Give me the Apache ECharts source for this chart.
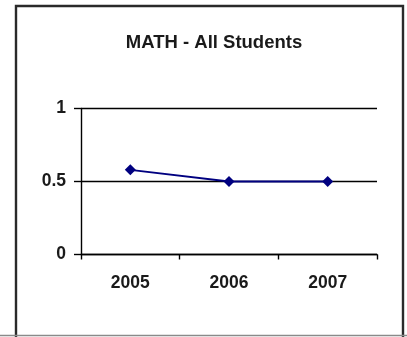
<!DOCTYPE html>
<html>
<head>
<meta charset="utf-8">
<script src="https://cdn.jsdelivr.net/npm/echarts@6/dist/echarts.min.js"></script>
<style>
  html, body { margin: 0; padding: 0; background: #fff; }
  #chart { width: 407px; height: 337px; }
</style>
</head>
<body>
<div id="chart"></div>
<script>
// Year categories and the share of all students for each year
const years = ['2005', '2006', '2007'];
const mathAllStudents = [0.58, 0.5, 0.5];
const yTicks = { min: 0, max: 1, interval: 0.5 };

const FONT = 'Arial, "Liberation Sans", sans-serif';

const chart = echarts.init(document.getElementById('chart'), null, { renderer: 'canvas' });

chart.setOption({
  backgroundColor: '#fff',
  animation: false,
  title: {
    text: 'MATH - All Students',
    left: 209,
    top: 28,
    textAlign: 'center',
    textStyle: { fontFamily: FONT, fontSize: 18.5, fontWeight: 'bold', color: '#1a1a1a' }
  },
  grid: { left: 81, right: 30, top: 108.5, bottom: 82.5, containLabel: false },
  xAxis: {
    type: 'category',
    data: years,
    boundaryGap: true,
    axisLine: { lineStyle: { color: '#000', width: 1.4 } },
    axisTick: { show: true, length: 5, lineStyle: { color: '#000', width: 1.4 } },
    axisLabel: { margin: 20, fontFamily: FONT, fontSize: 17.5, fontWeight: 'bold', color: '#1a1a1a' },
    splitLine: { show: false }
  },
  yAxis: {
    type: 'value',
    min: yTicks.min,
    max: yTicks.max,
    interval: yTicks.interval,
    axisLine: { show: true, lineStyle: { color: '#000', width: 1.4 } },
    axisTick: { show: true, length: 7, lineStyle: { color: '#000', width: 1.4 } },
    axisLabel: { margin: 15, fontFamily: FONT, fontSize: 17.5, fontWeight: 'bold', color: '#1a1a1a' },
    splitLine: { show: true, lineStyle: { color: '#000', width: 1.4 } }
  },
  series: [{
    type: 'line',
    data: mathAllStudents,
    symbol: 'diamond',
    symbolSize: 11,
    lineStyle: { color: '#000080', width: 1.8 },
    itemStyle: { color: '#000080' }
  }],
  graphic: [
    {
      type: 'rect',
      shape: { x: 16, y: 6, width: 387, height: 345 },
      style: { fill: null, stroke: '#2a2a2a', lineWidth: 2.4 },
      silent: true
    },
    {
      type: 'line',
      shape: { x1: 0, y1: 335.5, x2: 407, y2: 335.5 },
      style: { stroke: '#8a8a8a', lineWidth: 1.5 },
      silent: true
    }
  ]
});
</script>
</body>
</html>
